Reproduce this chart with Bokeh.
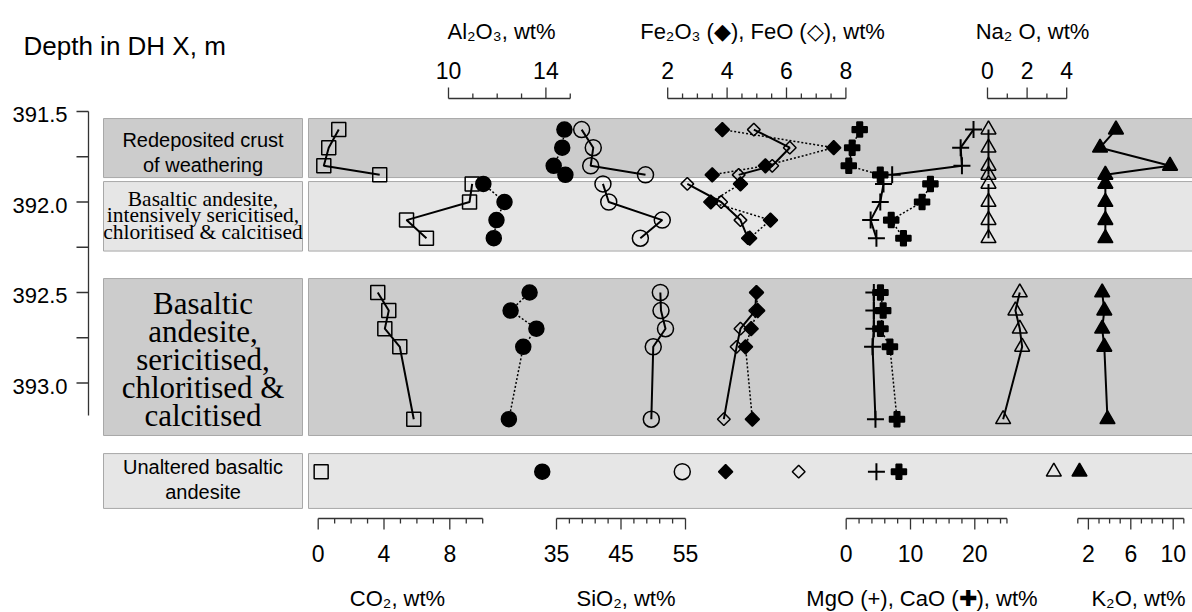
import math
from bokeh.plotting import figure
from bokeh.models import Range1d
from bokeh.core.properties import value
from bokeh.embed import file_html
from bokeh.resources import INLINE

# ---------------- data ----------------
depth_crust = [391.6, 391.7, 391.8, 391.85]
depth_intense = [391.9, 392.0, 392.1, 392.2]
depth_altered = [392.5, 392.6, 392.7, 392.8, 393.2]
depth_fresh = [393.49]

co2_crust = [1.25, 0.64, 0.34, 3.74]
co2_intense = [9.36, 9.2, 5.37, 6.58]
co2_altered = [3.62, 4.29, 4.05, 4.96, 5.81]
co2_fresh = [0.18]

al2o3_crust = [14.76, 14.67, 14.32, 14.8]
al2o3_intense = [11.43, 12.3, 11.97, 11.86]
al2o3_altered = [13.33, 12.55, 13.61, 13.07, 12.48]
al2o3_fresh = [13.85]

sio2_crust = [38.9, 40.7, 40.3, 48.8]
sio2_intense = [42.2, 43.1, 51.4, 48.0]
sio2_altered = [51.1, 51.2, 51.9, 50.0, 49.7]
sio2_fresh = [54.5]

fe2o3_crust = [3.84, 7.59, 5.29, 3.50]
fe2o3_intense = [4.45, 3.45, 5.46, 4.76]
fe2o3_altered = [4.99, 5.03, 4.81, 4.62, 4.85]
fe2o3_fresh = [3.95]

feo_crust = [4.90, 6.11, 5.52, 4.39]
feo_intense = [2.66, 3.8, 4.45, 4.7]
feo_altered = [4.98, 4.95, 4.45, 4.32, 3.89]
feo_fresh = [6.41]

mgo_crust = [19.8, 17.8, 18.0, 7.15]
mgo_intense = [5.8, 5.3, 3.8, 4.7]
mgo_altered = [4.3, 4.3, 4.3, 4.1, 4.55]
mgo_fresh = [4.7]

cao_crust = [2.1, 0.93, 0.4, 5.3]
cao_intense = [13.1, 11.8, 7.0, 8.9]
cao_altered = [5.33, 5.75, 5.33, 6.8, 7.9]
cao_fresh = [8.2]

na2o_crust = [0.05, 0.05, 0.05, 0.05]
na2o_intense = [0.05, 0.05, 0.05, 0.05]
na2o_altered = [1.63, 1.41, 1.63, 1.75, 0.79]
na2o_fresh = [3.35]

k2o_crust = [4.6, 3.1, 9.7, 3.6]
k2o_intense = [3.6, 3.6, 3.6, 3.6]
k2o_altered = [3.3, 3.5, 3.3, 3.5, 3.8]
k2o_fresh = [1.16]

zone_names = [
    "Redeposited crust\nof weathering",
    "Basaltic andesite,\nintensively sericitised,\nchloritised & calcitised",
    "Basaltic\nandesite,\nsericitised,\nchloritised &\ncalcitised",
    "Unaltered basaltic\nandesite",
]
zone_top = [391.539, 391.887, 392.423, 393.39]
zone_bottom = [391.865, 392.271, 393.29, 393.693]

depth_ticks = [391.5, 392.0, 392.5, 393.0]
depth_minor = [391.75, 392.25, 392.75]
depth_labels = ["391.5", "392.0", "392.5", "393.0"]

co2_ticks = [0, 1, 2, 3, 4, 5, 6, 7, 8, 9, 10]
co2_major = [0, 4, 8]
sio2_ticks = [35, 37, 39, 41, 43, 45, 47, 49, 51, 53, 55]
sio2_major = [35, 45, 55]
mg_ticks = [0, 2, 4, 6, 8, 10, 12, 14, 16, 18, 20, 22, 24, 25]
mg_major = [0, 10, 20]
k2o_ticks = [1, 2, 3, 4, 5, 6, 7, 8, 9, 10, 11]
k2o_major = [2, 6, 10]
al_ticks = [10, 11, 12, 13, 14, 15]
al_major = [10, 14]
fe_ticks = [2, 2.5, 3, 3.5, 4, 4.5, 5, 5.5, 6, 6.5, 7, 7.5, 8]
fe_major = [2, 4, 6, 8]
na_ticks = [0, 1, 2, 3, 4]
na_major = [0, 2, 4]

top_titles = ["Al\u2082O\u2083, wt%", "Fe\u2082O\u2083 (\u25c6), FeO (\u25c7), wt%", "Na\u2082 O, wt%"]
bottom_titles = ["CO\u2082, wt%", "SiO\u2082, wt%", "MgO (+), CaO (\u271a), wt%", "K\u2082O, wt%"]
depth_title = "Depth in DH X, m"

# ---------------- layout ----------------
SANS = "Liberation Sans"
SERIF = "Liberation Serif"
W, H = 1192, 612
LEFT, TOP = 0, 0


def depth_at(py):
    return 391.5 + (py - 111.0) / 181.0


p = figure(width=W, height=H, x_range=Range1d(LEFT, LEFT + W),
           y_range=Range1d(depth_at(TOP + H), depth_at(TOP)),
           output_backend="svg", toolbar_location=None,
           x_axis_type=None, y_axis_type=None, min_border=0)
p.outline_line_color = None
p.background_fill_color = "white"
p.border_fill_color = "white"
p.xgrid.visible = False
p.ygrid.visible = False
p.extra_y_ranges = {"px": Range1d(TOP + H, TOP)}

# pixel placement of each chemical scale: (pixel of v0, v0, pixels per unit)
scales = {
    "co2": (317.7, 0.0, 16.45),
    "al": (448.0, 10.0, 24.35),
    "si": (556.0, 35.0, 6.45),
    "fe": (667.2, 2.0, 29.7),
    "mg": (845.7, 0.0, 6.43),
    "na": (987.0, 0.0, 19.8),
    "k": (1077.3, 1.0, 10.6),
}
p.extra_x_ranges = {
    n: Range1d(v0 + (LEFT - x0) / k, v0 + (LEFT + W - x0) / k)
    for n, (x0, v0, k) in scales.items()
}

# zone bands
zone_fill = ["#cccccc", "#e6e6e6", "#cccccc", "#e6e6e6"]
p.quad(left=103, right=302, top=zone_top, bottom=zone_bottom,
       fill_color=zone_fill, line_color="#a8a8a8", line_width=1)
p.quad(left=308, right=LEFT + W + 10, top=zone_top, bottom=zone_bottom,
       fill_color=zone_fill, line_color="#a8a8a8", line_width=1)

zone_style = [
    (SANS, "20px", 1.12, 152),
    (SERIF, "21.5px", 0.69, 215),
    (SERIF, "31px", 0.8, 359),
    (SANS, "20px", 1.1, 479),
]
for name, (font, size, lh, yc) in zip(zone_names, zone_style):
    p.text(x=[202.5], y=[yc], text=[name], y_range_name="px",
           text_font=value(font), text_font_size=size, text_line_height=lh,
           text_align="center", text_baseline="middle", text_color="black")

# depth axis
p.segment(x0=[88], x1=[88], y0=[depth_ticks[0]], y1=[393.18],
          line_color="#333333", line_width=1.3)
all_depth_ticks = depth_ticks + depth_minor
p.segment(x0=[76] * len(all_depth_ticks), x1=[88] * len(all_depth_ticks),
          y0=all_depth_ticks, y1=all_depth_ticks, line_color="#333333", line_width=1.3)
p.text(x=[67] * len(depth_ticks), y=depth_ticks, text=depth_labels, y_offset=3,
       text_font=value(SANS), text_font_size="22px", text_align="right",
       text_baseline="middle", text_color="black")
p.text(x=[23], y=[45], text=[depth_title], y_range_name="px",
       text_font=value(SANS), text_font_size="26px", text_align="left",
       text_baseline="middle", text_color="black")


def draw_axis(name, ticks, majors, base, direction, label_y):
    p.segment(x0=[ticks[0]], x1=[ticks[-1]], y0=[base], y1=[base],
              x_range_name=name, y_range_name="px", line_color="#333333", line_width=1.3)
    ends = [base + direction * (11 if t in majors else 5) for t in ticks]
    p.segment(x0=ticks, x1=ticks, y0=[base] * len(ticks), y1=ends,
              x_range_name=name, y_range_name="px", line_color="#333333", line_width=1.3)
    p.text(x=majors, y=[label_y] * len(majors), text=[str(m) for m in majors],
           x_range_name=name, y_range_name="px", text_font=value(SANS),
           text_font_size="23px", text_align="center", text_baseline="middle",
           text_color="black")


draw_axis("co2", co2_ticks, co2_major, 518, 1, 553)
draw_axis("si", sio2_ticks, sio2_major, 518, 1, 553)
draw_axis("mg", mg_ticks, mg_major, 518, 1, 553)
draw_axis("k", k2o_ticks, k2o_major, 518, 1, 553)
draw_axis("al", al_ticks, al_major, 98, -1, 70)
draw_axis("fe", fe_ticks, fe_major, 98, -1, 70)
draw_axis("na", na_ticks, na_major, 98, -1, 70)

for t, xc in zip(top_titles, [501, 762, 1032]):
    p.text(x=[xc], y=[31], text=[t], y_range_name="px", text_font=value(SANS),
           text_font_size="22px", text_align="center", text_baseline="middle")
for t, xc in zip(bottom_titles, [397, 625.5, 921.5, 1138]):
    p.text(x=[xc], y=[598], text=[t], y_range_name="px", text_font=value(SANS),
           text_font_size="22px", text_align="center", text_baseline="middle")

# series: range, per-zone values, unaltered value, marker, filled, size, angle, dotted
series = [
    ("co2", [co2_crust, co2_intense, co2_altered], co2_fresh, "square", False, 14, 0, False),
    ("al", [al2o3_crust, al2o3_intense, al2o3_altered], al2o3_fresh, "circle", True, 15, 0, True),
    ("si", [sio2_crust, sio2_intense, sio2_altered], sio2_fresh, "circle", False, 16, 0, False),
    ("fe", [fe2o3_crust, fe2o3_intense, fe2o3_altered], fe2o3_fresh, "square", True, 10, math.pi / 4, True),
    ("fe", [feo_crust, feo_intense, feo_altered], feo_fresh, "square", False, 9, math.pi / 4, False),
    ("mg", [mgo_crust, mgo_intense, mgo_altered], mgo_fresh, "cross", False, 17, 0, False),
    ("mg", [cao_crust, cao_intense, cao_altered], cao_fresh, "plus", True, 15, 0, True),
    ("na", [na2o_crust, na2o_intense, na2o_altered], na2o_fresh, "triangle", False, 15, 0, False),
    ("k", [k2o_crust, k2o_intense, k2o_altered], k2o_fresh, "triangle", True, 15, 0, False),
]
zone_depths = [depth_crust, depth_intense, depth_altered]

for rn, zones, fresh, marker, filled, size, ang, dotted in series:
    for vals, dep in zip(zones, zone_depths):
        if dotted:
            p.line(x=vals, y=dep, x_range_name=rn, line_color="black",
                   line_width=1.5, line_dash="2 2")
        else:
            p.line(x=vals, y=dep, x_range_name=rn, line_color="black", line_width=2)

for rn, zones, fresh, marker, filled, size, ang, dotted in series:
    lw = 2 if marker == "cross" else 1.5
    for vals, dep in zip(zones + [fresh], zone_depths + [depth_fresh]):
        p.scatter(x=vals, y=dep, x_range_name=rn, marker=marker, size=size, angle=ang,
                  fill_color="black" if filled else None, line_color="black",
                  line_width=lw)

open("out.html", "w").write(file_html(p, INLINE))
